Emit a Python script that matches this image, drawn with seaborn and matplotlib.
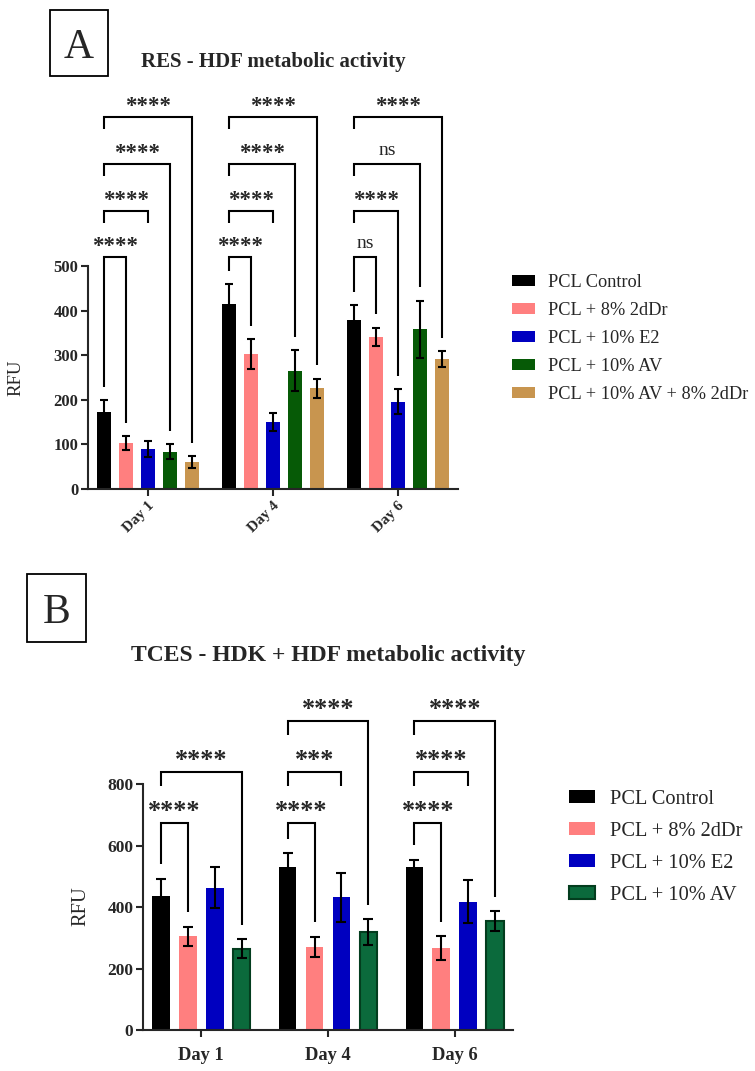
import numpy as np
import pandas as pd
import seaborn as sns
import matplotlib
matplotlib.use("Agg")
import matplotlib.pyplot as plt
from matplotlib.patches import Rectangle, Patch

days = ["Day 1", "Day 4", "Day 6"]

# Panel A - RES, HDF
resGroups = ["PCL Control", "PCL + 8% 2dDr", "PCL + 10% E2", "PCL + 10% AV", "PCL + 10% AV + 8% 2dDr"]
resColors = ["#000000", "#ff7f7f", "#0000c0", "#065a06", "#c8954f"]
resControl = [172, 416, 380]
resControlSd = [27, 43, 33]
res2dDr = [103, 303, 342]
res2dDrSd = [16, 33, 20]
resE2 = [90, 150, 196]
resE2Sd = [18, 20, 28]
resAV = [84, 265, 358]
resAVSd = [17, 46, 65]
resAV2dDr = [60, 226, 291]
resAV2dDrSd = [13, 22, 18]
# (compared group, label, right leg reaches the bar) - always vs control
resComp = [[(1, "****", 1), (2, "****", 0), (3, "****", 1), (4, "****", 1)],
           [(1, "****", 1), (2, "****", 0), (3, "****", 1), (4, "****", 1)],
           [(1, "ns", 1), (2, "****", 1), (3, "ns", 1), (4, "****", 1)]]
resLevels = [520, 623, 729, 834]

# Panel B - TCES, HDK + HDF
tcesGroups = ["PCL Control", "PCL + 8% 2dDr", "PCL + 10% E2", "PCL + 10% AV"]
tcesColors = ["#000000", "#ff7f7f", "#0000c0", "#0b6a3c"]
tcesControl = [435, 530, 529]
tcesControlSd = [58, 45, 25]
tces2dDr = [305, 270, 266]
tces2dDrSd = [31, 33, 39]
tcesE2 = [463, 432, 417]
tcesE2Sd = [67, 80, 70]
tcesAV = [265, 319, 354]
tcesAVSd = [30, 42, 33]
tcesComp = [[(1, "****", 1), (3, "****", 1)],
            [(1, "****", 1), (2, "***", 0), (3, "****", 1)],
            [(1, "****", 1), (2, "****", 0), (3, "****", 1)]]
tcesLevels = [673, 839, 1005]

sns.set_style("ticks")
plt.rcParams["font.family"] = ["Liberation Serif", "DejaVu Serif"]

fig = plt.figure(figsize=(7.55, 10.71), dpi=100)
W, H = 755.0, 1071.0


def drawPanel(ax, groups, colors, means, sds, comps, levels, width, gap, legGap, legShort,
              starSize, starOff, nsSize, lw, capsize, edgeColors):
    rows = []
    for g, vals in zip(groups, means):
        for d, v in zip(days, vals):
            rows.append({"Day": d, "RFU": v, "Group": g})
    df = pd.DataFrame(rows)
    sns.barplot(ax=ax, data=df, x="Day", y="RFU", hue="Group", hue_order=groups, order=days,
                palette=colors, saturation=1, width=width, gap=gap, errorbar=None, legend=False)
    barConts = list(ax.containers)
    centers = []
    for i, cont in enumerate(barConts):
        cs = []
        for j, bar in enumerate(cont):
            bar.set_edgecolor(edgeColors[i])
            bar.set_linewidth(1.5 if edgeColors[i] != "none" else 0)
            cx = bar.get_x() + bar.get_width() / 2
            cs.append(cx)
            ax.errorbar(cx, means[i][j], yerr=sds[i][j], fmt="none", ecolor="black",
                        elinewidth=lw, capsize=capsize, capthick=lw, zorder=5)
        centers.append(cs)
    for j, dayComps in enumerate(comps):
        for k, (t, label, longRight) in enumerate(dayComps):
            y = levels[k]
            xl, xr = centers[0][j], centers[t][j]
            lb = means[0][j] + sds[0][j] + legGap if k == 0 else y - legShort
            rb = means[t][j] + sds[t][j] + legGap if longRight else y - legShort
            ax.plot([xl, xl, xr, xr], [lb, y, y, rb], color="black", lw=lw,
                    solid_joinstyle="miter", solid_capstyle="butt", clip_on=False)
            if label == "ns":
                ax.annotate(label, ((xl + xr) / 2, y), xytext=(0, 6.5), textcoords="offset points",
                            ha="center", va="baseline", fontsize=nsSize)
            else:
                ax.annotate(label, ((xl + xr) / 2, y), xytext=(0, starOff), textcoords="offset points",
                            ha="center", va="baseline", fontsize=starSize, fontweight="bold")
    sns.despine(ax=ax)
    for s in ["left", "bottom"]:
        ax.spines[s].set_linewidth(lw)
    ax.set_xlabel("")
    return centers


# ---- Panel A
axA = fig.add_axes([88 / W, 1 - 489 / H, 370 / W, 401 / H])
drawPanel(axA, resGroups, resColors,
          [resControl, res2dDr, resE2, resAV, resAV2dDr],
          [resControlSd, res2dDrSd, resE2Sd, resAVSd, resAV2dDrSd],
          resComp, resLevels, 0.88, 0.36, 30, 27, 16.5, 4, 14, 1.5, 3.2, ["none"] * 5)
axA.set_xlim(-0.48, 2.48)
axA.set_ylim(0, 900)
axA.set_yticks([0, 100, 200, 300, 400, 500])
axA.spines["left"].set_bounds(0, 500)
axA.tick_params(axis="both", direction="out", length=5, width=1.5, pad=2)
for t in axA.get_yticklabels():
    t.set_fontweight("bold")
    t.set_fontsize(12)
axA.set_xticks(range(3))
axA.set_xticklabels(days, rotation=45, ha="right", rotation_mode="anchor", fontweight="bold", fontsize=11)
axA.set_ylabel("RFU", fontsize=13.5)
axA.yaxis.set_label_coords(-0.172, 0.277)
axA.set_title("RES - HDF metabolic activity", fontsize=15, fontweight="bold", pad=15)
axA.legend(handles=[Patch(facecolor=c, edgecolor="none") for c in resColors], labels=resGroups,
           loc="center left", bbox_to_anchor=(512 / W, 1 - 338.5 / H), bbox_transform=fig.transFigure,
           frameon=False, fontsize=13.2, handlelength=1.26, handleheight=0.55, handletextpad=0.71,
           labelspacing=0.61, borderpad=0, borderaxespad=0)

# ---- Panel B
axB = fig.add_axes([143 / W, 1 - 1030 / H, 370 / W, 338 / H])
drawPanel(axB, tcesGroups, tcesColors,
          [tcesControl, tces2dDr, tcesE2, tcesAV],
          [tcesControlSd, tces2dDrSd, tcesE2Sd, tcesAVSd],
          tcesComp, tcesLevels, 0.85, 0.35, 47, 44, 18.8, 3.6, 14, 1.5, 3.8,
          ["none", "none", "none", "#033d1e"])
axB.set_xlim(-0.46, 2.46)
axB.set_ylim(0, 1100)
axB.set_yticks([0, 200, 400, 600, 800])
axB.spines["left"].set_bounds(0, 800)
axB.tick_params(axis="both", direction="out", length=5, width=1.5, pad=2)
axB.tick_params(axis="x", pad=7)
for t in axB.get_yticklabels():
    t.set_fontweight("bold")
    t.set_fontsize(12.5)
axB.set_xticks(range(3))
axB.set_xticklabels(days, fontweight="bold", fontsize=13.3)
axB.set_ylabel("RFU", fontsize=14.8)
axB.yaxis.set_label_coords(-0.143, 0.367)
axB.set_title("TCES - HDK + HDF metabolic activity", fontsize=17, fontweight="bold", pad=22)
legB = axB.legend(handles=[Patch(facecolor=c, edgecolor=e, linewidth=1.5 if e != "none" else 0)
                           for c, e in zip(tcesColors, ["none", "none", "none", "#033d1e"])],
                  labels=tcesGroups, loc="center left", bbox_to_anchor=(569 / W, 1 - 847.5 / H),
                  bbox_transform=fig.transFigure, frameon=False, fontsize=14.7, handlelength=1.27,
                  handleheight=0.59, handletextpad=0.73, labelspacing=0.64, borderpad=0, borderaxespad=0)

# ---- panel letters
for (x0, y0, x1, y1, letter) in [(50, 10, 108, 76, "A"), (27, 574, 86, 642, "B")]:
    fig.add_artist(Rectangle((x0 / W, 1 - y1 / H), (x1 - x0) / W, (y1 - y0) / H,
                             transform=fig.transFigure, fill=False, edgecolor="black", linewidth=1.3))
    fig.text((x0 + x1) / 2 / W, 1 - (y0 + y1) / 2 / H, letter, ha="center", va="center_baseline",
             fontsize=30)

fig.savefig("out.png", dpi=100)
